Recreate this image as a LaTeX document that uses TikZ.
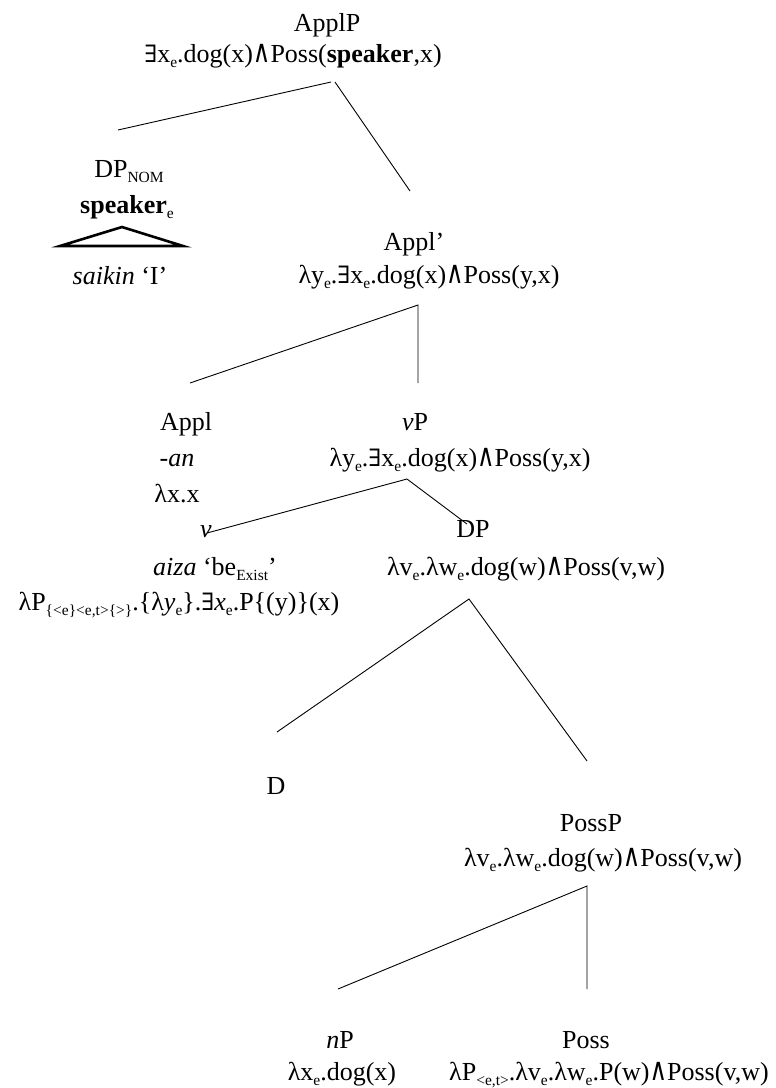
\documentclass[tikz,border=0pt]{standalone}
\usepackage{graphicx}
\usepackage{fontspec}
\setmainfont{Liberation Serif}
\newfontfamily\symfont[Scale=0.92]{DejaVu Serif}
\newcommand\EX{{\symfont ∃}}
\newcommand\AND{{\symfont\scalebox{1}[1.3]{∧}}}
\newcommand\subs[1]{\raisebox{-0.2em}{\fontsize{15.5}{15.5}\selectfont #1}}
\tikzset{
  lab/.style={inner sep=0pt, outer sep=0pt, anchor=base, font=\fontsize{26}{31}\selectfont},
  branch/.style={draw=black, line width=0.9pt},
  tri/.style={draw=black, line width=2.6pt, line join=miter},
}
\begin{document}
\begin{tikzpicture}[x=1pt,y=-1pt]
\useasboundingbox (0,0) rectangle (776,1088);
% ApplP
\node[lab] (applp) at (327,31) {ApplP};
\node[lab] (applpsem) at (293,62) {\EX x\subs{e}.dog(x)\AND Poss(\textbf{speaker},x)};
% DP_NOM
\node[lab] (dpnom) at (129,177) {DP\subs{NOM}};
\node[lab] (speaker) at (127,213) {\textbf{speaker}\subs{e}};
\node[lab] (saikin) at (120,284) {\textit{saikin} ‘I’};
% Appl'
\node[lab] (applbar) at (414,250) {Appl’};
\node[lab] (applbarsem) at (429,283) {λy\subs{e}.\EX x\subs{e}.dog(x)\AND Poss(y,x)};
% Appl
\node[lab] (appl) at (186,430) {Appl};
\node[lab] (applan) at (177,466) {-\textit{an}};
\node[lab] (applsem) at (177,502) {λx.x};
% vP
\node[lab] (vp) at (415,430) {\textit{v}P};
\node[lab] (vpsem) at (460,466) {λy\subs{e}.\EX x\subs{e}.dog(x)\AND Poss(y,x)};
% v
\node[lab] (v) at (206,537) {\textit{v}};
\node[lab] (aiza) at (215,575) {\textit{aiza} ‘be\subs{Exist}’};
\node[lab] (vsem) at (179,610) {λP\subs{\{<e\}<e,t>\{>\}}.\{λ\textit{y}\subs{e}\}.\EX\textit{x}\subs{e}.P\{(y)\}(x)};
% DP
\node[lab] (dp) at (473,537) {DP};
\node[lab] (dpsem) at (526,575) {λv\subs{e}.λw\subs{e}.dog(w)\AND Poss(v,w)};
% D
\node[lab] (d) at (276,794) {D};
% PossP
\node[lab] (possp) at (591,831) {PossP};
\node[lab] (posspsem) at (603,866) {λv\subs{e}.λw\subs{e}.dog(w)\AND Poss(v,w)};
% nP, Poss
\node[lab] (np) at (340,1048) {\textit{n}P};
\node[lab] (npsem) at (342,1080) {λx\subs{e}.dog(x)};
\node[lab] (poss) at (586,1048) {Poss};
\node[lab] (posssem) at (609,1080) {λP\subs{<e,t>}.λv\subs{e}.λw\subs{e}.P(w)\AND Poss(v,w)};
% branch points
\coordinate (applp-l) at (331,82);
\coordinate (applp-r) at (335,82);
\coordinate (dpnom-t) at (118,130);
\coordinate (applbar-t) at (410,191);
\coordinate (applbar-b) at (418,305);
\coordinate (appl-t) at (190,383);
\coordinate (vp-t) at (418,383);
\coordinate (vp-b) at (407,479);
\coordinate (v-t) at (207,533);
\coordinate (dp-t) at (467,524);
\coordinate (dp-b) at (469,599);
\coordinate (d-t) at (277,732);
\coordinate (possp-t) at (587,761);
\coordinate (possp-b) at (587,886);
\coordinate (np-t) at (338,989);
\coordinate (poss-t) at (587,989);
\coordinate (tri-a) at (122,227);
\coordinate (tri-l) at (60,246);
\coordinate (tri-r) at (183,246);
% branches
\draw[branch] (dpnom-t) -- (applp-l);
\draw[branch] (applp-r) -- (applbar-t);
\draw[branch] (appl-t) -- (applbar-b) -- (vp-t);
\draw[branch] (v-t) -- (vp-b) -- (dp-t);
\draw[branch] (d-t) -- (dp-b) -- (possp-t);
\draw[branch] (np-t) -- (possp-b) -- (poss-t);
\draw[tri] (tri-l) -- (tri-a) -- (tri-r) -- cycle;
\end{tikzpicture}
\end{document}
